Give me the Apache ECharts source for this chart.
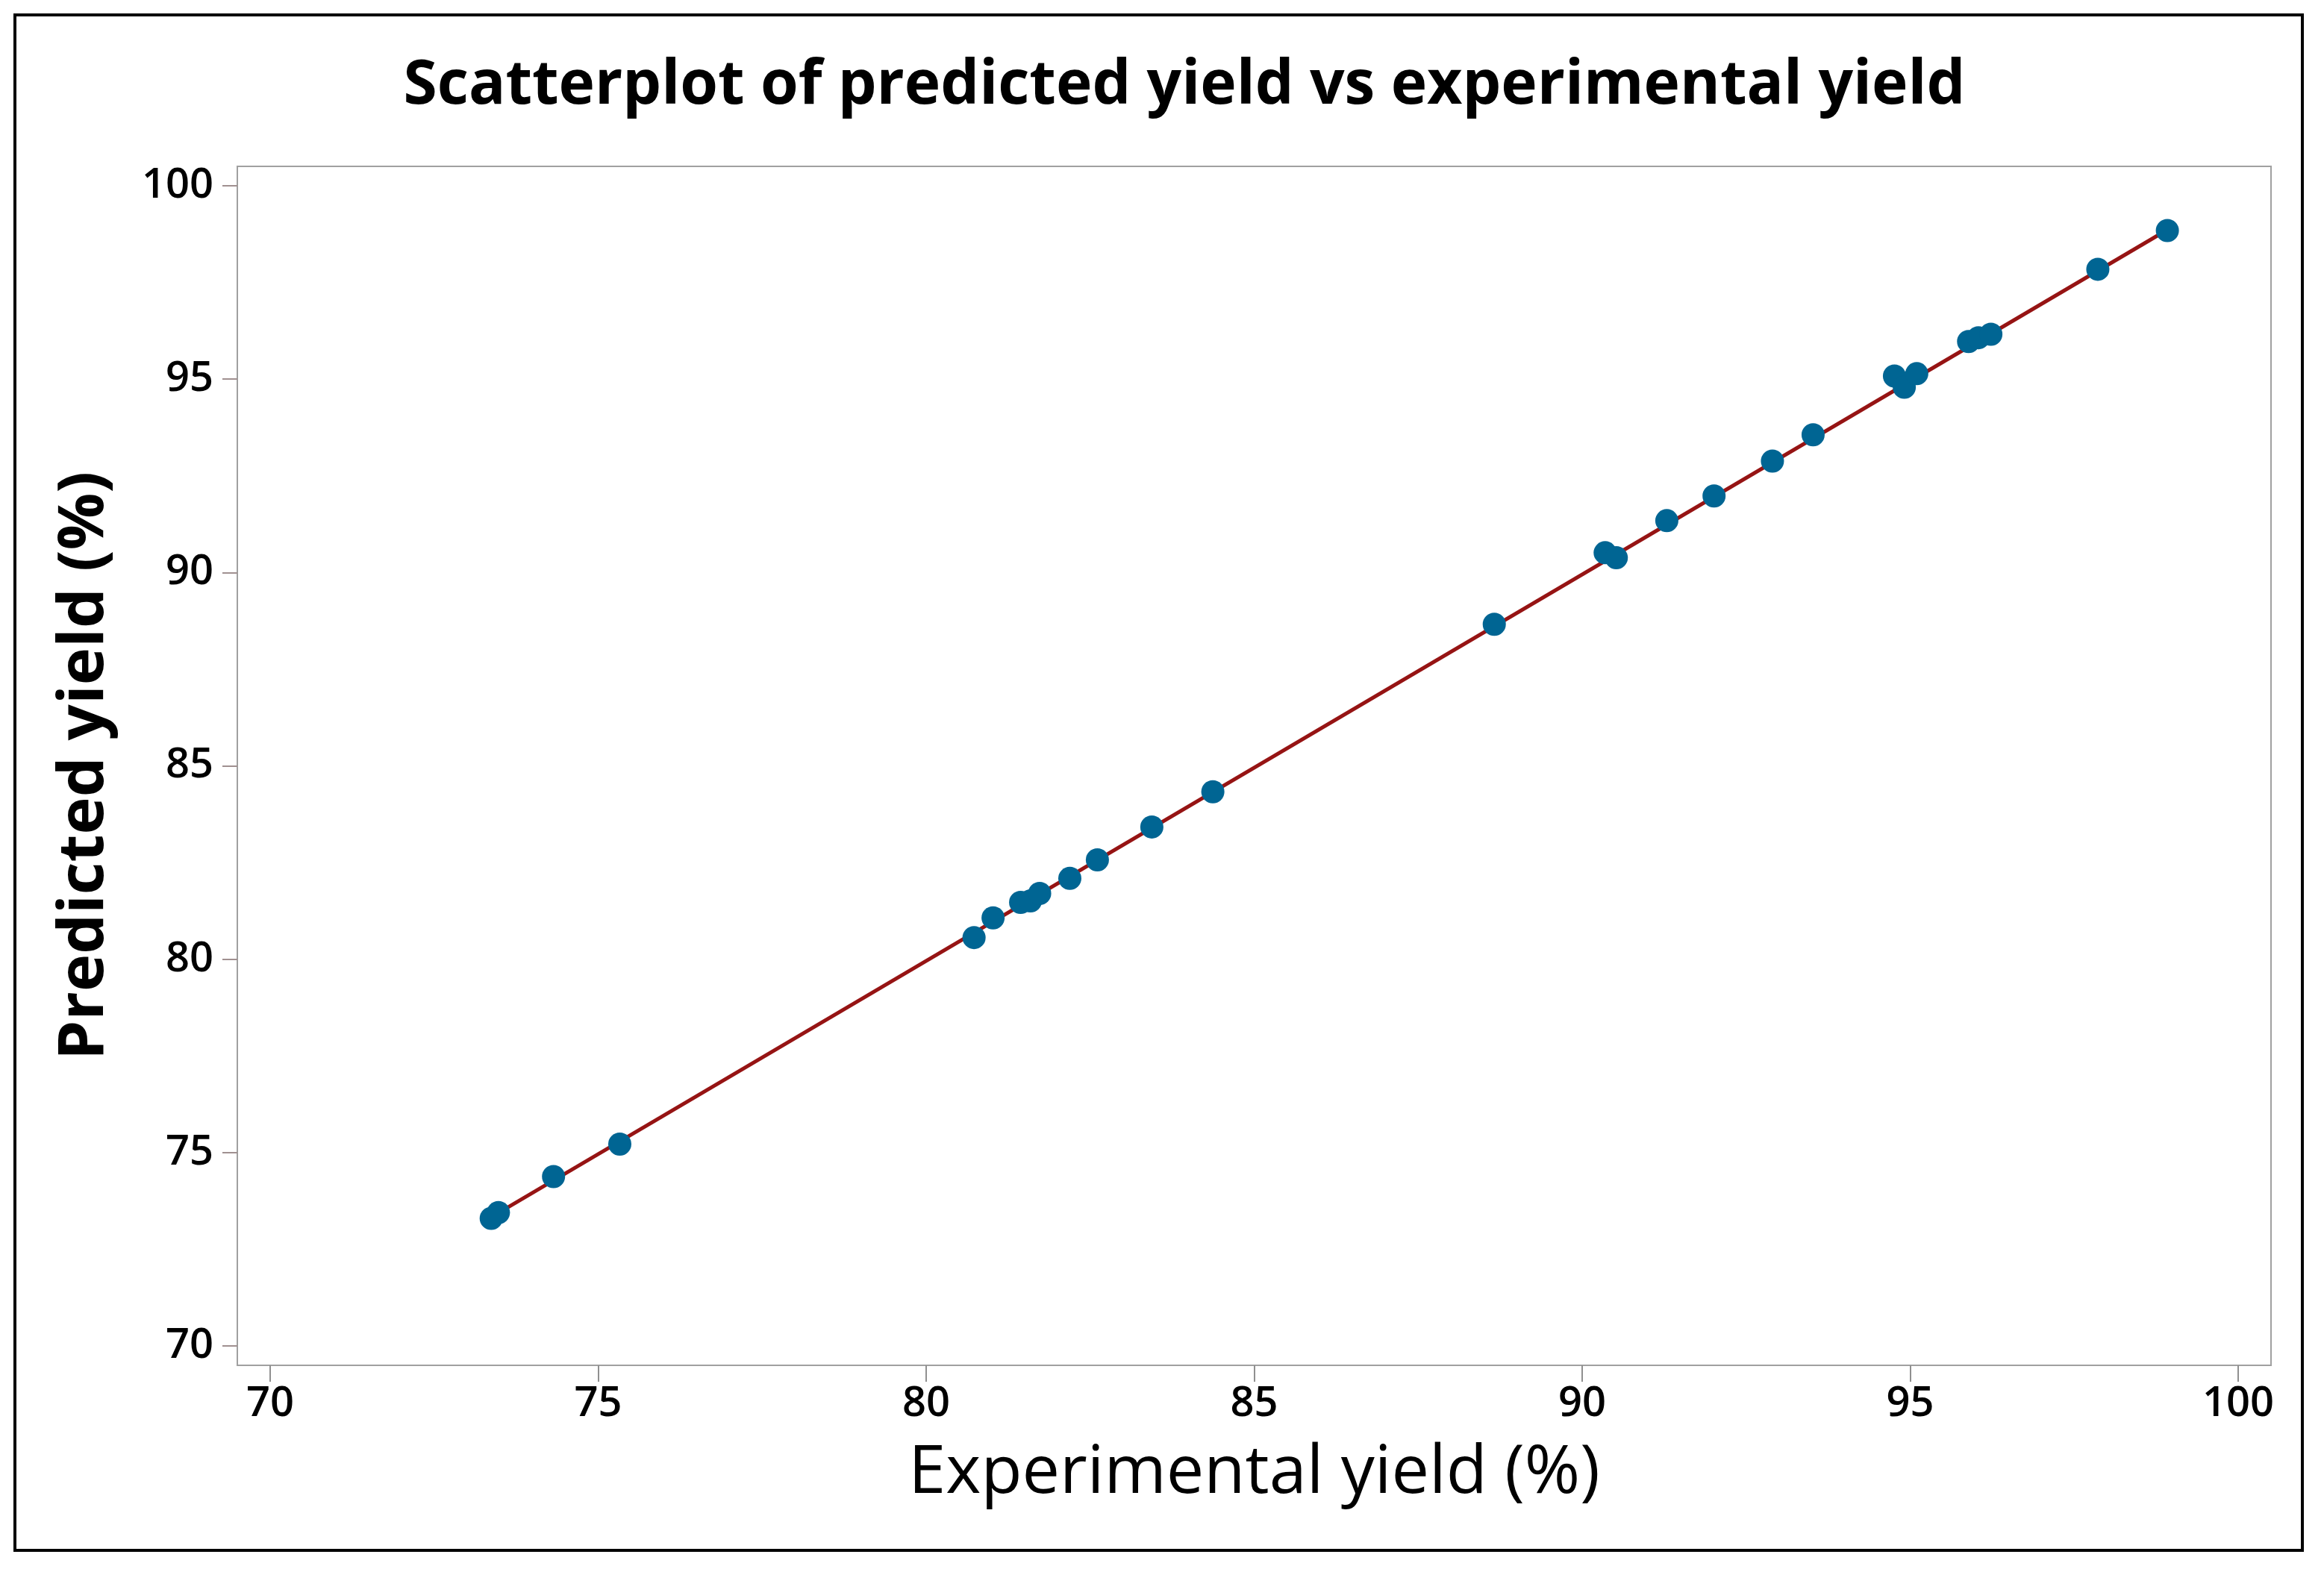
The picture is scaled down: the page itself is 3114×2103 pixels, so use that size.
<!DOCTYPE html>
<html>
<head>
<meta charset="utf-8">
<style>
html,body{margin:0;padding:0;background:#fff;}
#chart{width:3114px;height:2103px;}
</style>
<script src="https://cdn.jsdelivr.net/npm/echarts@6/dist/echarts.min.js"></script>
</head>
<body>
<div id="chart"></div>
<script>
// Data
const experimentalYield = [73.37, 73.48, 74.32, 75.33, 80.73, 81.02, 81.44, 81.59, 81.73, 82.19, 82.61, 83.44, 84.37, 88.66, 90.35, 90.52, 91.29, 92.01, 92.90, 93.52, 94.76, 94.91, 95.10, 95.89, 96.04, 96.23, 97.86, 98.92];
const predictedYield    = [73.30, 73.45, 74.38, 75.22, 80.56, 81.07, 81.47, 81.51, 81.70, 82.09, 82.57, 83.42, 84.33, 88.66, 90.51, 90.38, 91.34, 91.98, 92.88, 93.56, 95.08, 94.79, 95.14, 95.97, 96.07, 96.16, 97.84, 98.84];
const fitLineX = [73.37, 98.92];
const fitLineY = [73.33, 98.86];
const xTicks = [70, 75, 80, 85, 90, 95, 100];
const yTicks = [70, 75, 80, 85, 90, 95, 100];
const titleText = 'Scatterplot of predicted yield vs experimental yield';
const xAxisTitle = 'Experimental yield (%)';
const yAxisTitle = 'Predicted yield (%)';

const FONT = '"Open Sans", "Noto Sans", sans-serif';
const chart = echarts.init(document.getElementById('chart'), null, {renderer: 'canvas'});

const scatterData = experimentalYield.map((x, i) => [x, predictedYield[i]]);
const lineData = fitLineX.map((x, i) => [x, fitLineY[i]]);

chart.setOption({
  animation: false,
  backgroundColor: '#ffffff',
  title: {
    text: titleText,
    left: 1582,
    textAlign: 'center',
    top: 70,
    textStyle: {fontFamily: FONT, fontSize: 82, fontWeight: 'bold', color: '#000'}
  },
  grid: {
    left: 318, right: 71, top: 223, bottom: 273,
    show: true, borderColor: '#a0a0a0', borderWidth: 2, backgroundColor: '#fff'
  },
  xAxis: {
    type: 'value', min: 69.5, max: 100.5,
    name: xAxisTitle, nameLocation: 'middle', nameGap: 100,
    nameTextStyle: {fontFamily: FONT, fontSize: 90, fontWeight: 'normal', color: '#000'},
    axisLine: {show: true, lineStyle: {color: '#a0a0a0', width: 2}},
    axisTick: {show: true, inside: false, length: 22, customValues: xTicks, lineStyle: {color: '#909090', width: 2}},
    axisLabel: {customValues: xTicks, margin: 24, fontFamily: FONT, fontSize: 56, fontWeight: 600, color: '#000'},
    splitLine: {show: false}
  },
  yAxis: {
    type: 'value', min: 69.5, max: 100.5,
    name: yAxisTitle, nameLocation: 'middle', nameGap: 162, nameRotate: 90,
    nameTextStyle: {fontFamily: FONT, fontSize: 85, fontWeight: 'bold', color: '#000'},
    axisLine: {show: true, lineStyle: {color: '#a0a0a0', width: 2}},
    axisTick: {show: true, inside: false, length: 20, customValues: yTicks, lineStyle: {color: '#a09090', width: 2}},
    axisLabel: {customValues: yTicks, margin: 32, fontFamily: FONT, fontSize: 56, fontWeight: 600, color: '#000'},
    splitLine: {show: false}
  },
  series: [
    {
      type: 'line', data: lineData, symbol: 'none', z: 2,
      lineStyle: {color: '#961414', width: 5}
    },
    {
      type: 'scatter', data: scatterData, symbol: 'circle', symbolSize: 31, z: 3,
      itemStyle: {color: '#006593', opacity: 1}
    }
  ],
  graphic: [{
    type: 'rect', z: 100, silent: true,
    shape: {x: 20, y: 20, width: 3065, height: 2058},
    style: {fill: 'none', stroke: '#000', lineWidth: 4}
  }]
});
</script>
</body>
</html>
